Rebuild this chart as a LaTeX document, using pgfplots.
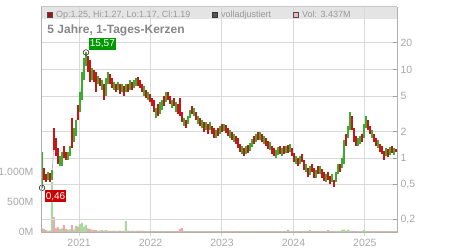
\documentclass[border=0pt]{standalone}
\usepackage{pgfplots}
\pgfplotsset{compat=1.18}
\usepackage{pgfplotstable}
\usepackage{fontspec}
\setmainfont{Liberation Sans}

\definecolor{gridc}{HTML}{D9D9D9}
\definecolor{framec}{HTML}{B0B0B0}
\definecolor{labc}{HTML}{A8A8A8}
\definecolor{tickc}{HTML}{A0A0A0}
\definecolor{bandc}{HTML}{E4E4E4}
\definecolor{hdrc}{HTML}{9A9A9A}
\definecolor{titc}{HTML}{868686}
\definecolor{candred}{HTML}{C41818}
\definecolor{candgreen}{HTML}{40AA30}
\definecolor{volgreen}{HTML}{A6DA9E}
\definecolor{volpink}{HTML}{F0A8B0}
\definecolor{boxgreen}{HTML}{009A00}
\definecolor{boxred}{HTML}{CC0000}
\definecolor{closec}{HTML}{B4B4B4}
\definecolor{sqred}{HTML}{A80F0F}
\definecolor{sqgray}{HTML}{555555}
\definecolor{sqpink}{HTML}{F2B5BD}

\newcommand{\tickfont}{\fontsize{10.5bp}{12bp}\selectfont}
\newcommand{\hdrfont}{\fontsize{9bp}{11bp}\selectfont}
\newcommand{\titlefont}{\fontsize{12bp}{14bp}\selectfont\bfseries}
\newcommand{\boxfont}{\fontsize{10bp}{12bp}\selectfont}

% closing prices (adjusted line)
\pgfplotstableread{
x c
2020.480 0.73
2020.508 0.626
2020.536 0.595
2020.564 0.660
2020.592 0.595
2020.620 0.660
2020.648 1.52
2020.676 1.23
2020.704 0.949
2020.732 0.901
2020.760 1.05
2020.788 1.11
2020.816 1.00
2020.844 1.11
2020.872 1.23
2020.900 1.52
2020.928 1.87
2020.956 2.30
2020.984 3.31
2021.012 4.52
2021.040 8.01
2021.068 11.53
2021.096 13.49
2021.124 11.53
2021.152 9.37
2021.180 8.89
2021.208 8.44
2021.236 7.22
2021.264 7.61
2021.292 7.22
2021.320 6.51
2021.348 5.29
2021.376 7.22
2021.404 8.44
2021.432 7.61
2021.460 6.86
2021.488 6.51
2021.516 6.18
2021.544 6.51
2021.572 5.87
2021.600 6.18
2021.628 5.57
2021.656 6.51
2021.684 6.18
2021.712 6.86
2021.740 6.51
2021.768 6.86
2021.796 7.41
2021.824 7.61
2021.852 6.86
2021.880 6.18
2021.908 5.57
2021.936 5.29
2021.964 5.02
2021.992 4.76
2022.020 4.29
2022.048 3.87
2022.076 3.31
2022.104 3.49
2022.132 3.67
2022.160 4.07
2022.188 4.52
2022.216 5.02
2022.244 5.02
2022.272 4.52
2022.300 4.07
2022.328 4.29
2022.356 3.87
2022.384 3.49
2022.412 3.31
2022.440 2.83
2022.468 2.55
2022.496 2.42
2022.524 2.69
2022.552 3.14
2022.580 3.49
2022.608 3.31
2022.636 2.98
2022.664 2.69
2022.692 2.55
2022.720 2.42
2022.748 2.24
2022.776 2.30
2022.804 2.18
2022.832 2.30
2022.860 2.07
2022.888 1.92
2022.916 1.87
2022.944 1.97
2022.972 2.07
2023.000 2.18
2023.028 2.24
2023.056 2.12
2023.084 1.97
2023.112 1.87
2023.140 1.77
2023.168 1.68
2023.196 1.60
2023.224 1.48
2023.252 1.30
2023.280 1.23
2023.308 1.17
2023.336 1.23
2023.364 1.26
2023.392 1.33
2023.420 1.48
2023.448 1.60
2023.476 1.68
2023.504 1.77
2023.532 1.82
2023.560 1.68
2023.588 1.60
2023.616 1.52
2023.644 1.40
2023.672 1.37
2023.700 1.23
2023.728 1.17
2023.756 1.11
2023.784 1.20
2023.812 1.23
2023.840 1.17
2023.868 1.23
2023.896 1.23
2023.924 1.26
2023.952 1.30
2023.980 1.17
2024.008 1.03
2024.036 0.949
2024.064 0.901
2024.092 0.949
2024.120 1.00
2024.148 0.833
2024.176 0.771
2024.204 0.695
2024.232 0.732
2024.260 0.771
2024.288 0.695
2024.316 0.660
2024.344 0.732
2024.372 0.732
2024.400 0.677
2024.428 0.626
2024.456 0.595
2024.484 0.626
2024.512 0.564
2024.540 0.595
2024.568 0.509
2024.596 0.626
2024.624 0.732
2024.652 0.771
2024.680 0.855
2024.708 1.37
2024.736 1.60
2024.764 1.97
2024.792 2.83
2024.820 2.42
2024.848 1.87
2024.876 1.52
2024.904 1.52
2024.932 1.60
2024.960 1.68
2024.988 2.18
2025.016 2.69
2025.044 2.30
2025.072 2.07
2025.100 1.87
2025.128 1.68
2025.156 1.52
2025.184 1.44
2025.212 1.30
2025.240 1.23
2025.268 1.08
2025.296 1.17
2025.324 1.14
2025.352 1.20
2025.380 1.23
2025.408 1.17
2025.436 1.19
}\closes

% volume (million shares) on rising days
\pgfplotstableread{
x v
2020.480 60
2020.564 20
2020.620 830
2020.732 50
2020.760 60
2020.844 40
2020.872 45
2020.928 40
2020.956 100
2021.012 130
2021.040 150
2021.068 90
2021.096 120
2021.180 40
2021.264 25
2021.320 30
2021.376 30
2021.404 25
2021.488 25
2021.544 20
2021.600 20
2021.656 180
2021.712 20
2021.768 18
2021.796 20
2021.908 18
2021.964 16
2022.076 16
2022.132 16
2022.160 18
2022.216 18
2022.300 15
2022.356 15
2022.468 15
2022.524 14
2022.552 14
2022.608 14
2022.664 14
2022.720 14
2022.776 14
2022.832 14
2022.916 14
2022.972 14
2023.028 14
2023.112 14
2023.168 16
2023.280 14
2023.336 14
2023.392 14
2023.420 16
2023.476 14
2023.532 14
2023.588 14
2023.672 14
2023.756 14
2023.784 14
2023.840 14
2023.896 14
2023.952 14
2024.036 14
2024.092 14
2024.176 14
2024.232 30
2024.316 14
2024.372 14
2024.456 14
2024.540 14
2024.596 16
2024.624 20
2024.680 35
2024.708 40
2024.764 35
2024.792 25
2024.904 16
2024.932 16
2024.988 30
2025.016 18
2025.100 14
2025.184 14
2025.296 14
2025.352 14
2025.408 14
}\volup

% volume (million shares) on falling days
\pgfplotstableread{
x v
2020.508 50
2020.536 30
2020.592 25
2020.648 250
2020.676 60
2020.704 80
2020.788 115
2020.816 50
2020.900 115
2020.984 90
2021.124 60
2021.152 50
2021.208 35
2021.236 30
2021.292 25
2021.348 25
2021.432 20
2021.460 20
2021.516 20
2021.572 25
2021.628 20
2021.684 25
2021.740 18
2021.824 18
2021.852 18
2021.880 20
2021.936 16
2021.992 18
2022.020 16
2022.048 18
2022.104 16
2022.188 16
2022.244 16
2022.272 15
2022.328 15
2022.384 16
2022.412 50
2022.440 65
2022.496 14
2022.580 14
2022.636 14
2022.692 14
2022.748 14
2022.804 14
2022.860 14
2022.888 14
2022.944 14
2023.000 14
2023.056 14
2023.084 14
2023.140 14
2023.196 14
2023.224 14
2023.252 14
2023.308 14
2023.364 14
2023.448 14
2023.504 14
2023.560 14
2023.616 14
2023.644 14
2023.700 14
2023.728 14
2023.812 14
2023.868 14
2023.924 35
2023.980 14
2024.008 14
2024.064 14
2024.120 14
2024.148 14
2024.204 14
2024.260 14
2024.288 14
2024.344 14
2024.400 14
2024.428 14
2024.484 30
2024.512 14
2024.568 16
2024.652 16
2024.736 25
2024.820 20
2024.848 18
2024.876 16
2024.960 16
2025.044 16
2025.072 16
2025.128 14
2025.156 14
2025.212 14
2025.240 14
2025.268 14
2025.324 14
2025.380 14
2025.436 14
}\voldown

\begin{document}
\begin{tikzpicture}
\path[use as bounding box] (-41bp,-18bp) rectangle (409bp,232bp);
\fill[bandc] (0bp,213bp) rectangle (356bp,225bp);

% volume axis
\begin{axis}[
  at={(0bp,0bp)}, anchor=south west, scale only axis,
  width=356bp, height=225bp,
  xmin=2020.466, xmax=2025.450, ymin=0, ymax=3750,
  axis line style={draw=none},
  xtick={2021,2022,2023,2024,2025},
  xticklabels={2021,2022,2023,2024,2025},
  ytick={0,500,1000}, yticklabels={0M,500M,1.000M},
  xmajorgrids, grid style={gridc, line width=1bp},
  tick pos=left, tick align=outside, major tick length=4bp,
  xtick style={draw=gridc, line width=1bp},
  ytick style={draw=none},
  ticklabel style={font=\tickfont, text=labc},
]
\addplot[ybar, bar width=2bp, bar shift=0pt, fill=volgreen, draw=none] table[x=x, y=v] {\volup};
\addplot[ybar, bar width=2bp, bar shift=0pt, fill=volpink, draw=none] table[x=x, y=v] {\voldown};
\end{axis}

% price axis
\begin{axis}[
  at={(0bp,0bp)}, anchor=south west, scale only axis,
  width=356bp, height=225bp,
  xmin=2020.466, xmax=2025.450, ymode=log, ymin=0.146, ymax=50.8,
  axis line style={draw=none}, clip=false,
  xtick=\empty,
  ytick={0.2,0.5,1,2,5,10,20}, yticklabels={{0,2},{0,5},1,2,5,10,20},
  ymajorgrids, grid style={gridc, line width=1bp},
  ytick pos=right, tick align=inside, major tick length=4bp, minor tick length=0pt,
  ytick style={draw=tickc, line width=1bp},
  yticklabel style={font=\tickfont, text=labc},
  unbounded coords=jump,
]
\addplot[closec, line width=0.7bp, mark=none] table[x=x, y=c] {\closes};
% rising candles: low -> high
\addplot[candgreen, line width=2bp, line cap=butt, mark=none] coordinates {
(2020.480,0.46)(2020.480,1.17)(2020.480,nan)
(2020.564,0.564)(2020.564,0.695)(2020.564,nan)
(2020.620,0.564)(2020.620,0.732)(2020.620,nan)
(2020.732,0.812)(2020.732,1.05)(2020.732,nan)
(2020.760,0.812)(2020.760,1.17)(2020.760,nan)
(2020.844,0.949)(2020.844,1.17)(2020.844,nan)
(2020.872,1.05)(2020.872,1.37)(2020.872,nan)
(2020.928,1.52)(2020.928,2.18)(2020.928,nan)
(2020.956,1.77)(2020.956,2.69)(2020.956,nan)
(2021.012,3.31)(2021.012,5.57)(2021.012,nan)
(2021.040,4.52)(2021.040,9.37)(2021.040,nan)
(2021.068,7.61)(2021.068,13.49)(2021.068,nan)
(2021.096,10.95)(2021.096,15.57)(2021.096,nan)
(2021.180,7.61)(2021.180,10.39)(2021.180,nan)
(2021.264,6.86)(2021.264,8.44)(2021.264,nan)
(2021.320,5.87)(2021.320,7.61)(2021.320,nan)
(2021.376,5.02)(2021.376,8.01)(2021.376,nan)
(2021.404,6.86)(2021.404,9.37)(2021.404,nan)
(2021.488,5.87)(2021.488,7.22)(2021.488,nan)
(2021.544,5.87)(2021.544,7.22)(2021.544,nan)
(2021.600,5.57)(2021.600,6.86)(2021.600,nan)
(2021.656,5.57)(2021.656,6.86)(2021.656,nan)
(2021.712,5.87)(2021.712,7.61)(2021.712,nan)
(2021.768,6.18)(2021.768,7.61)(2021.768,nan)
(2021.796,6.51)(2021.796,8.01)(2021.796,nan)
(2021.908,5.02)(2021.908,6.51)(2021.908,nan)
(2021.964,4.52)(2021.964,5.57)(2021.964,nan)
(2022.076,2.83)(2022.076,3.67)(2022.076,nan)
(2022.132,3.14)(2022.132,4.29)(2022.132,nan)
(2022.160,3.49)(2022.160,4.52)(2022.160,nan)
(2022.216,4.29)(2022.216,5.57)(2022.216,nan)
(2022.300,3.67)(2022.300,4.52)(2022.300,nan)
(2022.356,3.31)(2022.356,4.29)(2022.356,nan)
(2022.468,2.30)(2022.468,2.83)(2022.468,nan)
(2022.524,2.42)(2022.524,2.98)(2022.524,nan)
(2022.552,2.83)(2022.552,3.49)(2022.552,nan)
(2022.608,2.98)(2022.608,3.67)(2022.608,nan)
(2022.664,2.42)(2022.664,2.98)(2022.664,nan)
(2022.720,2.18)(2022.720,2.69)(2022.720,nan)
(2022.776,2.07)(2022.776,2.55)(2022.776,nan)
(2022.832,2.07)(2022.832,2.55)(2022.832,nan)
(2022.916,1.68)(2022.916,2.07)(2022.916,nan)
(2022.972,1.87)(2022.972,2.30)(2022.972,nan)
(2023.028,2.02)(2023.028,2.42)(2023.028,nan)
(2023.112,1.68)(2023.112,2.07)(2023.112,nan)
(2023.168,1.52)(2023.168,1.87)(2023.168,nan)
(2023.280,1.11)(2023.280,1.37)(2023.280,nan)
(2023.336,1.11)(2023.336,1.37)(2023.336,nan)
(2023.392,1.20)(2023.392,1.48)(2023.392,nan)
(2023.420,1.33)(2023.420,1.64)(2023.420,nan)
(2023.476,1.52)(2023.476,1.87)(2023.476,nan)
(2023.532,1.60)(2023.532,1.97)(2023.532,nan)
(2023.588,1.44)(2023.588,1.77)(2023.588,nan)
(2023.672,1.23)(2023.672,1.52)(2023.672,nan)
(2023.756,1.00)(2023.756,1.23)(2023.756,nan)
(2023.784,1.08)(2023.784,1.33)(2023.784,nan)
(2023.840,1.05)(2023.840,1.30)(2023.840,nan)
(2023.896,1.14)(2023.896,1.37)(2023.896,nan)
(2023.952,1.17)(2023.952,1.44)(2023.952,nan)
(2024.036,0.855)(2024.036,1.05)(2024.036,nan)
(2024.092,0.855)(2024.092,1.05)(2024.092,nan)
(2024.176,0.695)(2024.176,0.855)(2024.176,nan)
(2024.232,0.643)(2024.232,0.812)(2024.232,nan)
(2024.316,0.595)(2024.316,0.732)(2024.316,nan)
(2024.372,0.660)(2024.372,0.812)(2024.372,nan)
(2024.456,0.536)(2024.456,0.660)(2024.456,nan)
(2024.540,0.536)(2024.540,0.660)(2024.540,nan)
(2024.596,0.536)(2024.596,0.695)(2024.596,nan)
(2024.624,0.660)(2024.624,0.855)(2024.624,nan)
(2024.680,0.771)(2024.680,1.00)(2024.680,nan)
(2024.708,0.855)(2024.708,1.60)(2024.708,nan)
(2024.764,1.68)(2024.764,2.30)(2024.764,nan)
(2024.792,2.07)(2024.792,3.31)(2024.792,nan)
(2024.904,1.37)(2024.904,1.68)(2024.904,nan)
(2024.932,1.44)(2024.932,1.77)(2024.932,nan)
(2024.988,1.68)(2024.988,2.42)(2024.988,nan)
(2025.016,2.18)(2025.016,2.98)(2025.016,nan)
(2025.100,1.68)(2025.100,2.07)(2025.100,nan)
(2025.184,1.30)(2025.184,1.60)(2025.184,nan)
(2025.296,1.05)(2025.296,1.30)(2025.296,nan)
(2025.352,1.08)(2025.352,1.33)(2025.352,nan)
(2025.408,1.08)(2025.408,1.30)(2025.408,nan)
};
% falling candles: low -> high
\addplot[candred, line width=2bp, line cap=butt, mark=none] coordinates {
(2020.508,0.564)(2020.508,0.771)(2020.508,nan)
(2020.536,0.536)(2020.536,0.660)(2020.536,nan)
(2020.592,0.536)(2020.592,0.677)(2020.592,nan)
(2020.648,1.23)(2020.648,2.18)(2020.648,nan)
(2020.676,1.05)(2020.676,1.68)(2020.676,nan)
(2020.704,0.855)(2020.704,1.30)(2020.704,nan)
(2020.788,1.00)(2020.788,1.37)(2020.788,nan)
(2020.816,0.949)(2020.816,1.17)(2020.816,nan)
(2020.900,1.30)(2020.900,2.83)(2020.900,nan)
(2020.984,2.69)(2020.984,3.97)(2020.984,nan)
(2021.124,9.37)(2021.124,14.21)(2021.124,nan)
(2021.152,7.22)(2021.152,12.80)(2021.152,nan)
(2021.208,7.22)(2021.208,9.87)(2021.208,nan)
(2021.236,5.57)(2021.236,9.37)(2021.236,nan)
(2021.292,6.51)(2021.292,8.01)(2021.292,nan)
(2021.348,4.52)(2021.348,6.86)(2021.348,nan)
(2021.432,6.86)(2021.432,8.89)(2021.432,nan)
(2021.460,6.18)(2021.460,8.01)(2021.460,nan)
(2021.516,5.57)(2021.516,6.86)(2021.516,nan)
(2021.572,5.29)(2021.572,6.86)(2021.572,nan)
(2021.628,5.02)(2021.628,6.51)(2021.628,nan)
(2021.684,5.57)(2021.684,6.86)(2021.684,nan)
(2021.740,5.87)(2021.740,7.22)(2021.740,nan)
(2021.824,6.51)(2021.824,8.23)(2021.824,nan)
(2021.852,6.18)(2021.852,7.61)(2021.852,nan)
(2021.880,5.57)(2021.880,6.86)(2021.880,nan)
(2021.936,4.76)(2021.936,5.87)(2021.936,nan)
(2021.992,4.29)(2021.992,5.29)(2021.992,nan)
(2022.020,3.87)(2022.020,4.76)(2022.020,nan)
(2022.048,3.31)(2022.048,4.52)(2022.048,nan)
(2022.104,2.98)(2022.104,4.07)(2022.104,nan)
(2022.188,3.87)(2022.188,5.02)(2022.188,nan)
(2022.244,4.52)(2022.244,5.57)(2022.244,nan)
(2022.272,4.07)(2022.272,5.02)(2022.272,nan)
(2022.328,3.87)(2022.328,4.76)(2022.328,nan)
(2022.384,3.14)(2022.384,4.07)(2022.384,nan)
(2022.412,2.98)(2022.412,4.76)(2022.412,nan)
(2022.440,2.55)(2022.440,3.31)(2022.440,nan)
(2022.496,2.18)(2022.496,2.69)(2022.496,nan)
(2022.580,3.14)(2022.580,3.87)(2022.580,nan)
(2022.636,2.69)(2022.636,3.31)(2022.636,nan)
(2022.692,2.30)(2022.692,2.83)(2022.692,nan)
(2022.748,1.97)(2022.748,2.55)(2022.748,nan)
(2022.804,1.87)(2022.804,2.42)(2022.804,nan)
(2022.860,1.87)(2022.860,2.30)(2022.860,nan)
(2022.888,1.68)(2022.888,2.18)(2022.888,nan)
(2022.944,1.77)(2022.944,2.18)(2022.944,nan)
(2023.000,1.97)(2023.000,2.42)(2023.000,nan)
(2023.056,1.92)(2023.056,2.36)(2023.056,nan)
(2023.084,1.77)(2023.084,2.18)(2023.084,nan)
(2023.140,1.60)(2023.140,1.97)(2023.140,nan)
(2023.196,1.44)(2023.196,1.77)(2023.196,nan)
(2023.224,1.30)(2023.224,1.68)(2023.224,nan)
(2023.252,1.17)(2023.252,1.44)(2023.252,nan)
(2023.308,1.05)(2023.308,1.30)(2023.308,nan)
(2023.364,1.14)(2023.364,1.40)(2023.364,nan)
(2023.448,1.44)(2023.448,1.77)(2023.448,nan)
(2023.504,1.60)(2023.504,1.97)(2023.504,nan)
(2023.560,1.52)(2023.560,1.87)(2023.560,nan)
(2023.616,1.37)(2023.616,1.68)(2023.616,nan)
(2023.644,1.26)(2023.644,1.56)(2023.644,nan)
(2023.700,1.11)(2023.700,1.37)(2023.700,nan)
(2023.728,1.05)(2023.728,1.30)(2023.728,nan)
(2023.812,1.11)(2023.812,1.37)(2023.812,nan)
(2023.868,1.11)(2023.868,1.37)(2023.868,nan)
(2023.924,1.14)(2023.924,1.40)(2023.924,nan)
(2023.980,1.05)(2023.980,1.30)(2023.980,nan)
(2024.008,0.901)(2024.008,1.14)(2024.008,nan)
(2024.064,0.812)(2024.064,1.00)(2024.064,nan)
(2024.120,0.901)(2024.120,1.11)(2024.120,nan)
(2024.148,0.732)(2024.148,0.949)(2024.148,nan)
(2024.204,0.610)(2024.204,0.771)(2024.204,nan)
(2024.260,0.695)(2024.260,0.855)(2024.260,nan)
(2024.288,0.595)(2024.288,0.771)(2024.288,nan)
(2024.344,0.660)(2024.344,0.812)(2024.344,nan)
(2024.400,0.595)(2024.400,0.751)(2024.400,nan)
(2024.428,0.550)(2024.428,0.695)(2024.428,nan)
(2024.484,0.564)(2024.484,0.695)(2024.484,nan)
(2024.512,0.509)(2024.512,0.626)(2024.512,nan)
(2024.568,0.471)(2024.568,0.564)(2024.568,nan)
(2024.652,0.695)(2024.652,0.855)(2024.652,nan)
(2024.736,1.37)(2024.736,1.87)(2024.736,nan)
(2024.820,2.07)(2024.820,2.98)(2024.820,nan)
(2024.848,1.52)(2024.848,2.18)(2024.848,nan)
(2024.876,1.37)(2024.876,1.77)(2024.876,nan)
(2024.960,1.52)(2024.960,1.87)(2024.960,nan)
(2025.044,2.07)(2025.044,2.69)(2025.044,nan)
(2025.072,1.87)(2025.072,2.30)(2025.072,nan)
(2025.128,1.52)(2025.128,1.87)(2025.128,nan)
(2025.156,1.37)(2025.156,1.68)(2025.156,nan)
(2025.212,1.17)(2025.212,1.44)(2025.212,nan)
(2025.240,1.11)(2025.240,1.37)(2025.240,nan)
(2025.268,0.949)(2025.268,1.20)(2025.268,nan)
(2025.324,1.03)(2025.324,1.26)(2025.324,nan)
(2025.380,1.14)(2025.380,1.37)(2025.380,nan)
(2025.436,1.17)(2025.436,1.27)(2025.436,nan)
};
\addplot[only marks, mark=o, mark size=2.8bp, black!85, line width=0.6bp]
  coordinates {(2021.096,15.57)}
  node[anchor=south west, xshift=2.3bp, yshift=2.3bp, fill=boxgreen, text=white,
       inner xsep=1.2bp, inner ysep=0bp, minimum height=11.4bp, font=\boxfont] {15,57};
\addplot[only marks, mark=o, mark size=2.8bp, black!85, line width=0.6bp]
  coordinates {(2020.480,0.46)}
  node[anchor=north west, xshift=2.3bp, yshift=-2.3bp, fill=boxred, text=white,
       inner xsep=1.2bp, inner ysep=0bp, minimum height=11.4bp, font=\boxfont] {0,46};
\end{axis}

% frame
\draw[framec, line width=1bp] (0bp,225bp) -- (0bp,0bp) -- (356bp,0bp) -- (356bp,225bp);
\draw[gridc!80!gray, line width=1bp] (0bp,225bp) -- (356bp,225bp);

% header legend
\filldraw[fill=sqred, draw=black!70, line width=0.6bp] (5.9bp,214.2bp) rectangle (11.5bp,219.8bp);
\node[anchor=base west, inner sep=0pt, font=\hdrfont, text=hdrc] at (15bp,214.3bp) {Op:1.25, Hi:1.27, Lo:1.17, Cl:1.19};
\filldraw[fill=sqgray, draw=black!80, line width=0.6bp] (170.9bp,214.2bp) rectangle (176.5bp,219.8bp);
\node[anchor=base west, inner sep=0pt, font=\hdrfont, text=hdrc] at (180bp,214.3bp) {volladjustiert};
\filldraw[fill=sqpink, draw=black!70, line width=0.6bp] (251.9bp,214.2bp) rectangle (257.5bp,219.8bp);
\node[anchor=base west, inner sep=0pt, font=\hdrfont, text=hdrc] at (261bp,214.3bp) {Vol: 3.437M};
\node[anchor=base west, inner sep=0pt, font=\titlefont, text=titc] at (6.3bp,198bp) {5 Jahre, 1-Tages-Kerzen};
\end{tikzpicture}
\end{document}
